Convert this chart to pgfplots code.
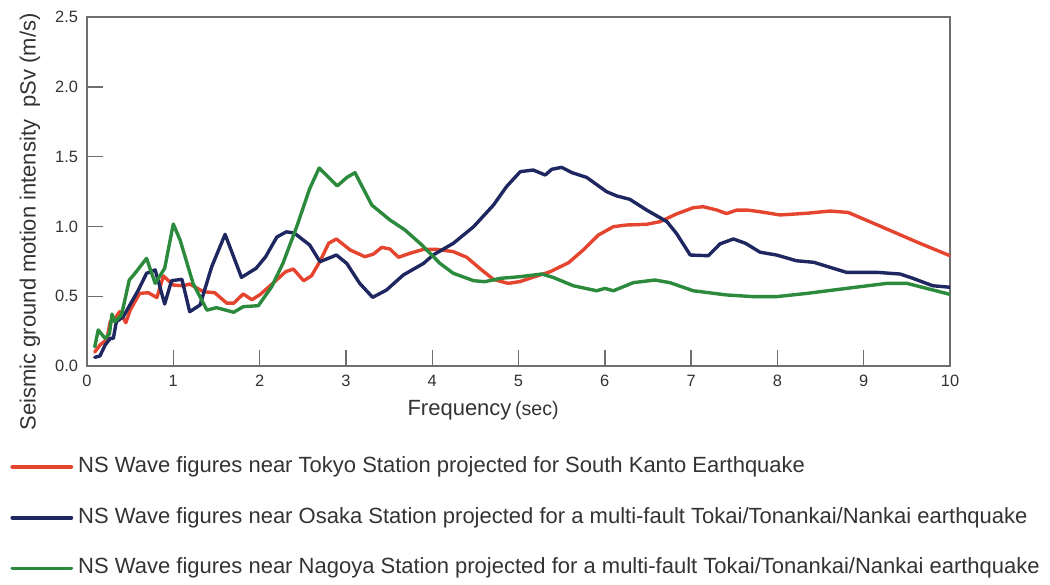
\documentclass[border=0pt]{standalone}
\usepackage{fontspec}
\setmainfont{Liberation Sans}
\usepackage{pgfplots}
\pgfplotsset{compat=1.18}

\definecolor{tokyored}{HTML}{E5452F}
\definecolor{osakanavy}{HTML}{1E2760}
\definecolor{nagoyagreen}{HTML}{2B8A3C}
\definecolor{framegray}{HTML}{6E6E6E}
\definecolor{textgray}{HTML}{333333}

\begin{document}
\begin{tikzpicture}
\path[use as bounding box] (0,0) rectangle (525pt,-292pt);
\begin{axis}[
  at={(43.5pt,-183pt)}, anchor=south west,
  scale only axis, width=431.5pt, height=174.5pt,
  xmin=0, xmax=10, ymin=0, ymax=2.5,
  xtick={0,1,...,10}, ytick={0,0.5,...,2.5},
  xtick pos=bottom, ytick pos=left,
  tick align=inside, major tick length=8pt,
  tick style={framegray, line width=0.7pt},
  axis line style={framegray, line width=0.7pt},
  /pgf/number format/assume math mode=true,
  yticklabel={\pgfmathprintnumber[fixed,fixed zerofill,precision=1]{\tick}},
  ticklabel style={font=\fontsize{8.2}{10}\selectfont, text=textgray},
  xticklabel style={yshift=-1pt},
  yticklabel style={xshift=-1pt},
  xlabel={Frequency\,{\fontsize{9.8}{11}\selectfont(sec)}},
  xlabel style={at={(axis description cs:0.459,-0.126)}, anchor=center,
    font=\fontsize{11}{13}\selectfont, text=textgray},
  ylabel={Seismic ground motion intensity\ \ pSv (m/s)},
  ylabel style={at={(axis description cs:-0.066,0.413)}, anchor=center, rotate=0,
    font=\fontsize{11}{13}\selectfont, text=textgray},
  every axis plot/.append style={line width=1.7pt, line join=round, line cap=round},
  legend image code/.code={\draw[#1, line width=1.9pt] (0pt,0pt) -- (29.5pt,0pt);},
  legend cell align=left,
  legend style={at={(axis description cs:-0.0892,-0.2576)}, anchor=north west,
    draw=none, fill=none, inner sep=0pt, row sep=14.9pt, column sep=2.5pt,
    font=\fontsize{11}{13}\selectfont, text=textgray,
    nodes={inner sep=0pt, text height=8pt, text depth=2.5pt}},
]
% Tokyo Station, South Kanto earthquake
\addplot[tokyored] coordinates {
(0.09,0.10) (0.15,0.15) (0.23,0.19) (0.27,0.32) (0.31,0.33) (0.38,0.39)
(0.45,0.31) (0.50,0.40) (0.61,0.52) (0.71,0.525) (0.81,0.49) (0.885,0.645)
(1.0,0.58) (1.115,0.575) (1.19,0.587) (1.35,0.532) (1.48,0.525) (1.62,0.45)
(1.70,0.45) (1.81,0.516) (1.91,0.475) (2.0,0.509) (2.15,0.59) (2.30,0.675)
(2.39,0.695) (2.51,0.611) (2.60,0.645) (2.70,0.75) (2.80,0.879) (2.89,0.91)
(3.05,0.831) (3.22,0.783) (3.32,0.802) (3.415,0.85) (3.51,0.838) (3.61,0.779)
(3.74,0.807) (3.90,0.836) (4.05,0.836) (4.245,0.819) (4.40,0.779) (4.55,0.70)
(4.71,0.62) (4.88,0.592) (5.02,0.605) (5.13,0.628) (5.365,0.675) (5.58,0.74)
(5.75,0.831) (5.925,0.938) (6.10,0.998) (6.25,1.01) (6.485,1.015) (6.64,1.034)
(6.83,1.089) (7.025,1.134) (7.14,1.141) (7.30,1.117) (7.41,1.092) (7.53,1.117)
(7.65,1.117) (7.80,1.105) (8.03,1.082) (8.34,1.094) (8.61,1.11) (8.82,1.10)
(9.07,1.034) (9.34,0.962) (9.65,0.879) (10.0,0.79)
};
\addlegendentry{NS Wave figures near Tokyo Station projected for South Kanto Earthquake}
% Osaka Station, multi-fault Tokai/Tonankai/Nankai earthquake
\addplot[osakanavy] coordinates {
(0.09,0.062) (0.15,0.072) (0.21,0.15) (0.27,0.198) (0.305,0.198) (0.34,0.317)
(0.42,0.353) (0.595,0.544) (0.69,0.664) (0.79,0.688) (0.90,0.444) (0.98,0.611)
(1.10,0.621) (1.19,0.389) (1.31,0.437) (1.445,0.711) (1.60,0.943) (1.79,0.635)
(1.96,0.70) (2.07,0.783) (2.20,0.924) (2.31,0.961) (2.40,0.953) (2.58,0.867)
(2.70,0.747) (2.89,0.795) (3.01,0.735) (3.16,0.592) (3.31,0.492) (3.47,0.544)
(3.665,0.652) (3.90,0.735) (4.01,0.795) (4.245,0.879) (4.48,0.998) (4.71,1.153)
(4.86,1.284) (5.02,1.392) (5.17,1.404) (5.31,1.368) (5.385,1.409) (5.50,1.423)
(5.62,1.385) (5.79,1.351) (6.02,1.249) (6.14,1.218) (6.29,1.194) (6.485,1.117)
(6.72,1.034) (6.83,0.95) (6.99,0.795) (7.20,0.79) (7.335,0.875) (7.49,0.91)
(7.63,0.879) (7.80,0.815) (7.99,0.795) (8.22,0.754) (8.42,0.743) (8.80,0.671)
(9.15,0.671) (9.42,0.659) (9.57,0.628) (9.80,0.575) (10.0,0.564)
};
\addlegendentry{NS Wave figures near Osaka Station projected for a multi-fault Tokai/Tonankai/Nankai earthquake}
% Nagoya Station, multi-fault Tokai/Tonankai/Nankai earthquake
\addplot[nagoyagreen] coordinates {
(0.09,0.138) (0.13,0.258) (0.21,0.198) (0.26,0.23) (0.29,0.372) (0.32,0.317)
(0.40,0.365) (0.49,0.616) (0.556,0.664) (0.69,0.771) (0.79,0.592) (0.90,0.70)
(1.0,1.017) (1.08,0.90) (1.23,0.59) (1.39,0.40) (1.50,0.418) (1.70,0.385)
(1.81,0.425) (1.985,0.432) (2.14,0.568) (2.27,0.735) (2.43,0.998) (2.58,1.27)
(2.69,1.418) (2.90,1.29) (3.01,1.35) (3.105,1.385) (3.30,1.153) (3.51,1.046)
(3.685,0.974) (3.88,0.867) (4.09,0.735) (4.245,0.664) (4.48,0.611) (4.61,0.604)
(4.79,0.628) (5.02,0.64) (5.27,0.659) (5.40,0.635) (5.635,0.575) (5.905,0.539)
(6.00,0.556) (6.10,0.539) (6.33,0.597) (6.58,0.616) (6.755,0.597) (7.025,0.539)
(7.41,0.509) (7.72,0.497) (7.99,0.497) (8.34,0.52) (8.80,0.556) (9.27,0.592)
(9.50,0.592) (9.73,0.556) (10.0,0.513)
};
\addlegendentry{NS Wave figures near Nagoya Station projected for a multi-fault Tokai/Tonankai/Nankai earthquake}
\end{axis}
\end{tikzpicture}
\end{document}
